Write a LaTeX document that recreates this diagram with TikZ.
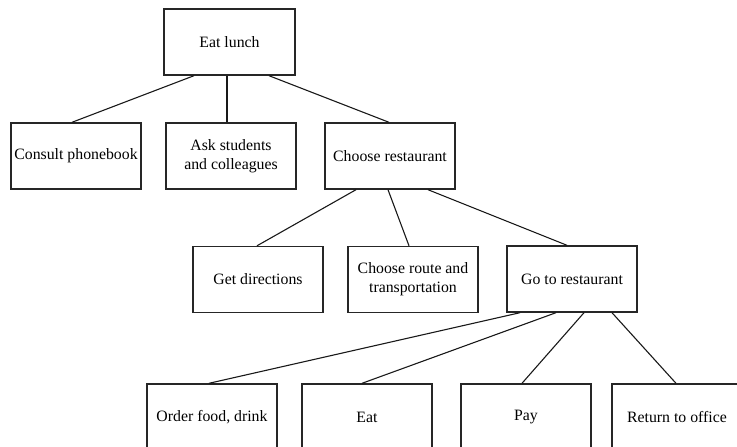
\documentclass[tikz,border=0pt]{standalone}
\usepackage{fontspec}
\setmainfont{Liberation Serif}
\usepackage{tikz}
\usetikzlibrary{positioning}
\tikzstyle{task} = [rectangle, minimum width=130pt, minimum height=66pt, inner sep=0pt, text centered, align=center, draw=black!85, line width=1.4pt, font=\fontsize{15.8}{19}\selectfont]
\tikzstyle{link} = [line width=1.1pt, color=black!90]

\begin{document}
\begin{tikzpicture}[x=1pt, y=-1pt]
\path[use as bounding box, clip] (0,0) rectangle (737,447);

% Top task
\node[task, minimum width=131pt] (lunch) at (229.5,42) {Eat lunch};

% First level
\node[task] (phone) at (76,156) {Consult phonebook};
\node[task] (ask) at (231,156) {Ask students\\and colleagues};
\node[task] (choose) at (390,156) {Choose restaurant};

% Second level
\node[task] (directions) at (258,279.5) {Get directions};
\node[task] (route) at (413,279.5) {Choose route and\\transportation};
\node[task] (go) at (572,279) {Go to restaurant};

% Third level
\node[task] (order) at (212,417) {Order food, drink};
\node[task] (eat) at (367,417) {Eat};
\node[task] (pay) at (526,417) {Pay};
\node[task] (return) at (677,417) {Return to office};

% Connections from eat lunch
\draw[link] ([xshift=-35.5pt]lunch.south) -- ([xshift=-4pt]phone.north);
\draw[link] ([xshift=-2.5pt]lunch.south) -- ([xshift=-4pt]ask.north);
\draw[link] ([xshift=39.5pt]lunch.south) -- ([xshift=-1pt]choose.north);

% Connections from choose restaurant
\draw[link] ([xshift=-34pt]choose.south) -- ([xshift=-1pt]directions.north);
\draw[link] ([xshift=-2pt]choose.south) -- ([xshift=-4pt]route.north);
\draw[link] ([xshift=38pt]choose.south) -- ([xshift=-5pt]go.north);

% Connections from go to restaurant
\draw[link] ([xshift=-52pt]go.south) -- ([xshift=-3pt]order.north);
\draw[link] ([xshift=-16pt]go.south) -- ([xshift=-5pt]eat.north);
\draw[link] ([xshift=12pt]go.south) -- ([xshift=-4pt]pay.north);
\draw[link] ([xshift=40pt]go.south) -- ([xshift=-1pt]return.north);
\end{tikzpicture}
\end{document}
